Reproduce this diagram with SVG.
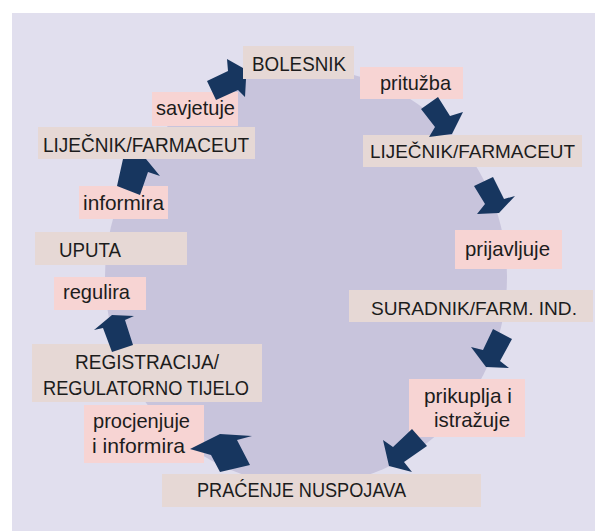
<svg xmlns="http://www.w3.org/2000/svg" width="595" height="531" viewBox="0 0 595 531">
<style>
.bg{fill:#E1DFEE}
.disc{fill:#C8C4DC}
.node{fill:#E6D8D5}
.verb{fill:#F7D4D3}
.arr{fill:#17365F}
text{font-family:"Liberation Sans",Arial,sans-serif;font-size:21px;fill:#1c1c1c}
text.sm{font-size:19px}
</style>
<rect width="595" height="531" fill="#fff"/>
<rect class="bg" x="12" y="13" width="583" height="518"/>
<ellipse class="disc" cx="306" cy="277" rx="201" ry="208"/>
<g id="n-bolesnik"><rect class="node" x="243" y="46" width="111" height="33"/><text x="252" y="70.5" textLength="94" lengthAdjust="spacingAndGlyphs">BOLESNIK</text></g>
<g id="v-prituzba"><rect class="verb" x="360" y="67" width="103" height="32"/><text x="380" y="90" textLength="71" lengthAdjust="spacingAndGlyphs">pritužba</text></g>
<g id="v-savjetuje"><rect class="verb" x="152" y="92" width="86" height="34"/><text x="156" y="114.5" textLength="79" lengthAdjust="spacingAndGlyphs">savjetuje</text></g>
<g id="n-lijecnik-l"><rect class="node" x="38" y="127" width="217" height="32"/><text x="43" y="152" textLength="206" lengthAdjust="spacingAndGlyphs">LIJEČNIK/FARMACEUT</text></g>
<g id="n-lijecnik-r"><rect class="node" x="363" y="135" width="219" height="32"/><text class="sm" x="370" y="157.5" textLength="205" lengthAdjust="spacingAndGlyphs">LIJEČNIK/FARMACEUT</text></g>
<g id="v-informira"><rect class="verb" x="79" y="186" width="89" height="33"/><text x="83" y="209.5" textLength="81" lengthAdjust="spacingAndGlyphs">informira</text></g>
<g id="n-uputa"><rect class="node" x="35" y="232" width="152" height="33"/><text x="59" y="257" textLength="62" lengthAdjust="spacingAndGlyphs">UPUTA</text></g>
<g id="v-prijavljuje"><rect class="verb" x="455" y="230" width="107" height="39"/><text x="465" y="256" textLength="85" lengthAdjust="spacingAndGlyphs">prijavljuje</text></g>
<g id="v-regulira"><rect class="verb" x="54" y="277" width="92" height="33"/><text x="63" y="298.5" textLength="67" lengthAdjust="spacingAndGlyphs">regulira</text></g>
<g id="n-suradnik"><rect class="node" x="349" y="290" width="244" height="32"/><text class="sm" x="371" y="314.5" textLength="206" lengthAdjust="spacingAndGlyphs">SURADNIK/FARM. IND.</text></g>
<g id="n-registracija"><rect class="node" x="32" y="344" width="230" height="58"/><text x="75" y="369" textLength="144" lengthAdjust="spacingAndGlyphs">REGISTRACIJA/</text><text x="43" y="395" textLength="206" lengthAdjust="spacingAndGlyphs">REGULATORNO TIJELO</text></g>
<g id="v-procjenjuje"><rect class="verb" x="84" y="405" width="120" height="58"/><text x="93" y="427.5" textLength="97" lengthAdjust="spacingAndGlyphs">procjenjuje</text><text x="92" y="453" textLength="93" lengthAdjust="spacingAndGlyphs">i informira</text></g>
<g id="v-prikuplja"><rect class="verb" x="409" y="379" width="116" height="58"/><text x="424" y="403" textLength="88" lengthAdjust="spacingAndGlyphs">prikuplja i</text><text x="434" y="427" textLength="76" lengthAdjust="spacingAndGlyphs">istražuje</text></g>
<g id="n-pracenje"><rect class="node" x="162" y="474" width="319" height="33"/><text x="197" y="497" textLength="209" lengthAdjust="spacingAndGlyphs">PRAĆENJE NUSPOJAVA</text></g>
<g id="connectors">
<polygon class="arr" points="227,59 243,68 243,79 246,79 245,97 238,90 216,100 207,81 228,71"/>
<polygon class="arr" points="421,109 438,97 450,116 463,112 452,134 429,137 435,127"/>
<polygon class="arr" points="474,186 493,177 504,199 515,196 499,213 477,214 485,204"/>
<polygon class="arr" points="493,329 512,339 500,361 509,368 486,367 471,347 483,350"/>
<polygon class="arr" points="412,429 427,446 404,462 412,472 389,466 383,440 393,447"/>
<polygon class="arr" points="190,449 220,434 252,436 237,440 250,465 220,472 211,455"/>
<polygon class="arr" points="94,330 112,315 134,316 125,320 133,345 112,352 103,328"/>
<polygon class="arr" points="123,159 146,159 160,176 148,172 140,195 117,186"/>
</g>
</svg>
